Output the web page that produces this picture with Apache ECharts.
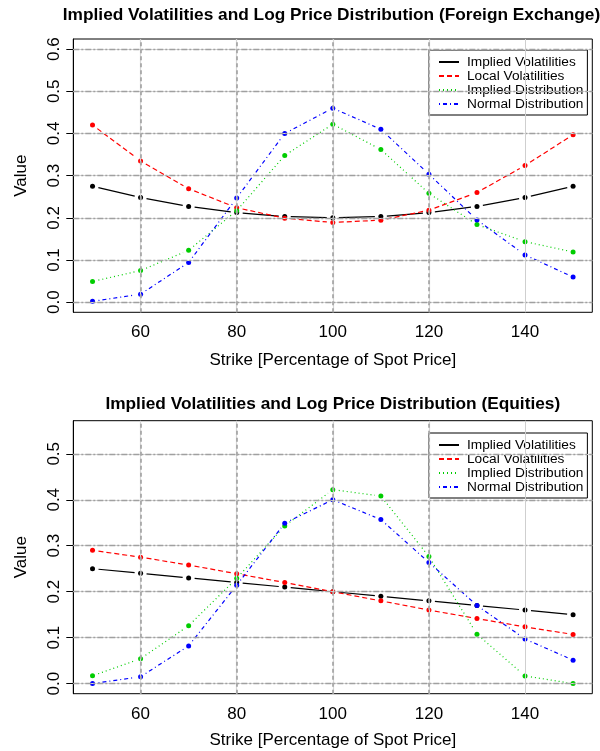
<!DOCTYPE html>
<html><head><meta charset="utf-8">
<script src="https://cdn.jsdelivr.net/npm/echarts@6/dist/echarts.min.js"></script>
<style>html,body{margin:0;padding:0;background:#fff}#c{width:600px;height:751px}</style>
</head><body><div id="c"></div>
<script>
// ---- data ----
const strikes = [50, 60, 70, 80, 90, 100, 110, 120, 130, 140, 150];
const xTicks = [60, 80, 100, 120, 140];
const yTicksTop = [0, 0.1, 0.2, 0.3, 0.4, 0.5, 0.6];
const yTicksBottom = [0, 0.1, 0.2, 0.3, 0.4, 0.5];
const seriesNames = ['Implied Volatilities', 'Local Volatilities', 'Implied Distribution', 'Normal Distribution'];
const titles = ['Implied Volatilities and Log Price Distribution (Foreign Exchange)',
                'Implied Volatilities and Log Price Distribution (Equities)'];
const xTitle = 'Strike [Percentage of Spot Price]';
const yTitle = 'Value';

const fxImpliedVol  = [0.275, 0.248, 0.227, 0.2125, 0.203, 0.200, 0.203, 0.2125, 0.227, 0.248, 0.275];
const fxLocalVol    = [0.420, 0.335, 0.269, 0.224, 0.199, 0.189, 0.1945, 0.218, 0.260, 0.324, 0.397];
const fxImpliedDist = [0.049, 0.075, 0.123, 0.217, 0.348, 0.422, 0.362, 0.258, 0.184, 0.1435, 0.119];
const fxNormalDist  = [0.002, 0.019, 0.094, 0.247, 0.400, 0.460, 0.410, 0.3035, 0.195, 0.112, 0.0595];

const eqImpliedVol  = [0.25, 0.24, 0.23, 0.22, 0.21, 0.20, 0.19, 0.18, 0.17, 0.16, 0.15];
const eqLocalVol    = [0.290, 0.275, 0.258, 0.239, 0.220, 0.200, 0.180, 0.160, 0.1415, 0.1234, 0.107];
const eqImpliedDist = [0.017, 0.054, 0.126, 0.229, 0.343, 0.422, 0.408, 0.2765, 0.1075, 0.0166, 0.0];
const eqNormalDist  = [0.0, 0.015, 0.082, 0.214, 0.349, 0.400, 0.357, 0.2635, 0.170, 0.097, 0.051];

// ---- styles ----
const FONT = 'Liberation Sans';
const colors = ['#000000', '#FF0000', '#00CD00', '#0000FF'];
const dashes = ['solid', [5, 3], [1, 3], [1, 3, 4, 3]];
const GAP = 6;

const chart = echarts.init(document.getElementById('c'), null, {renderer: 'canvas'});

function pairs(vals) { return strikes.map((s, i) => [s, vals[i]]); }
function segs(vals) {
  const out = [];
  for (let i = 0; i < strikes.length - 1; i++) out.push([strikes[i], vals[i], strikes[i + 1], vals[i + 1]]);
  return out;
}

function gridLines(gi, yTicks) {
  const data = [];
  yTicks.forEach(v => {
    data.push({yAxis: v, lineStyle: {color: '#d6d6d6', width: 1.2, type: 'solid'}});
    data.push({yAxis: v, lineStyle: {color: '#a0a0a0', width: 1.4, type: [6, 2, 2, 2]}});
  });
  xTicks.forEach(v => {
    if (v < 140) {
      data.push({xAxis: v, lineStyle: {color: '#d6d6d6', width: 1.2, type: 'solid'}});
      data.push({xAxis: v, lineStyle: {color: '#a0a0a0', width: 1.6, type: [4, 3]}});
    } else {
      data.push({xAxis: v, lineStyle: {color: '#cfcfcf', width: 1, type: 'solid'}});
    }
  });
  return {
    type: 'line', xAxisIndex: gi, yAxisIndex: gi, data: [], z: 1, silent: true,
    markLine: {silent: true, symbol: 'none', label: {show: false}, animation: false, data: data}
  };
}

function buildSeries(gi, sets) {
  const out = [gridLines(gi, gi === 0 ? yTicksTop : yTicksBottom)];
  sets.forEach((vals, k) => {
    out.push({
      type: 'custom', xAxisIndex: gi, yAxisIndex: gi, z: 3, silent: true,
      data: segs(vals),
      encode: {x: [0, 2], y: [1, 3]},
      renderItem: function (params, api) {
        const p1 = api.coord([api.value(0), api.value(1)]);
        const p2 = api.coord([api.value(2), api.value(3)]);
        const dx = p2[0] - p1[0], dy = p2[1] - p1[1];
        const L = Math.sqrt(dx * dx + dy * dy);
        if (L <= 2 * GAP) return null;
        const ux = dx / L, uy = dy / L;
        return {
          type: 'line',
          shape: {x1: p1[0] + ux * GAP, y1: p1[1] + uy * GAP, x2: p2[0] - ux * GAP, y2: p2[1] - uy * GAP},
          style: {stroke: colors[k], lineWidth: 1.2, lineDash: dashes[k] === 'solid' ? null : dashes[k]}
        };
      },
      animation: false
    });
    out.push({
      name: seriesNames[k], type: 'line', xAxisIndex: gi, yAxisIndex: gi, z: 4,
      data: pairs(vals), symbol: 'circle', symbolSize: 5, showSymbol: true,
      itemStyle: {color: colors[k], borderWidth: 0, borderColor: colors[k]},
      lineStyle: {color: colors[k], width: 1.2, type: dashes[k], opacity: 0},
      animation: false, silent: true
    });
  });
  return out;
}

function legendCfg(top, lh) {
  return {
    left: 429, top: top, orient: 'vertical', itemGap: 0, itemWidth: 20, itemHeight: lh,
    padding: [5, 4, 4, 9], borderColor: '#000', borderWidth: 1, borderRadius: 0,
    backgroundColor: '#fff', selectedMode: false,
    data: seriesNames,
    itemStyle: {opacity: 0},
    lineStyle: {opacity: 1},
    textStyle: {fontFamily: FONT, fontSize: 13.7, color: '#000', lineHeight: lh, padding: [0, 0, 0, 3]}
  };
}

function xAxisCfg(gi, nameGap) {
  return {
    type: 'value', gridIndex: gi, min: 46, max: 154,
    name: xTitle, nameLocation: 'middle', nameGap: nameGap,
    nameTextStyle: {fontFamily: FONT, fontSize: 17, color: '#000'},
    axisLine: {show: true, lineStyle: {color: '#000', width: 1}},
    axisTick: {show: true, customValues: xTicks, length: 7, lineStyle: {color: '#000'}},
    axisLabel: {customValues: xTicks, margin: 12, fontFamily: FONT, fontSize: 17, color: '#000'},
    splitLine: {show: false}
  };
}

function yAxisCfg(gi, min, max, ticks) {
  return {
    type: 'value', gridIndex: gi, min: min, max: max,
    name: yTitle, nameLocation: 'middle', nameGap: 43,
    nameTextStyle: {fontFamily: FONT, fontSize: 17, color: '#000'},
    axisLine: {show: true, lineStyle: {color: '#000', width: 1}},
    axisTick: {show: true, customValues: ticks, length: 7, lineStyle: {color: '#000'}},
    axisLabel: {customValues: ticks, rotate: 90, align: 'center', verticalAlign: 'bottom', margin: 10,
      fontFamily: FONT, fontSize: 17, color: '#000', formatter: v => v.toFixed(1)},
    splitLine: {show: false}
  };
}

const option = {
  backgroundColor: '#fff',
  animation: false,
  title: [
    {text: titles[0], left: 331.5, top: 7, textAlign: 'center', padding: 0,
     textStyle: {fontFamily: FONT, fontSize: 17.3, fontWeight: 'bold', color: '#000'}},
    {text: titles[1], left: 332.8, top: 396, textAlign: 'center', padding: 0,
     textStyle: {fontFamily: FONT, fontSize: 17.3, fontWeight: 'bold', color: '#000'}}
  ],
  legend: [legendCfg(50, 12), legendCfg(433, 12.8)],
  grid: [
    {left: 73.3, top: 39, width: 519, height: 273.3, show: true, borderColor: '#000', borderWidth: 1, backgroundColor: 'transparent'},
    {left: 73.3, top: 420.7, width: 519, height: 273, show: true, borderColor: '#000', borderWidth: 1, backgroundColor: 'transparent'}
  ],
  xAxis: [xAxisCfg(0, 40), xAxisCfg(1, 38)],
  yAxis: [yAxisCfg(0, -0.024, 0.624, yTicksTop), yAxisCfg(1, -0.022, 0.572, yTicksBottom)],
  series: [].concat(
    buildSeries(0, [fxImpliedVol, fxLocalVol, fxImpliedDist, fxNormalDist]),
    buildSeries(1, [eqImpliedVol, eqLocalVol, eqImpliedDist, eqNormalDist])
  )
};
chart.setOption(option);
</script>
</body></html>
